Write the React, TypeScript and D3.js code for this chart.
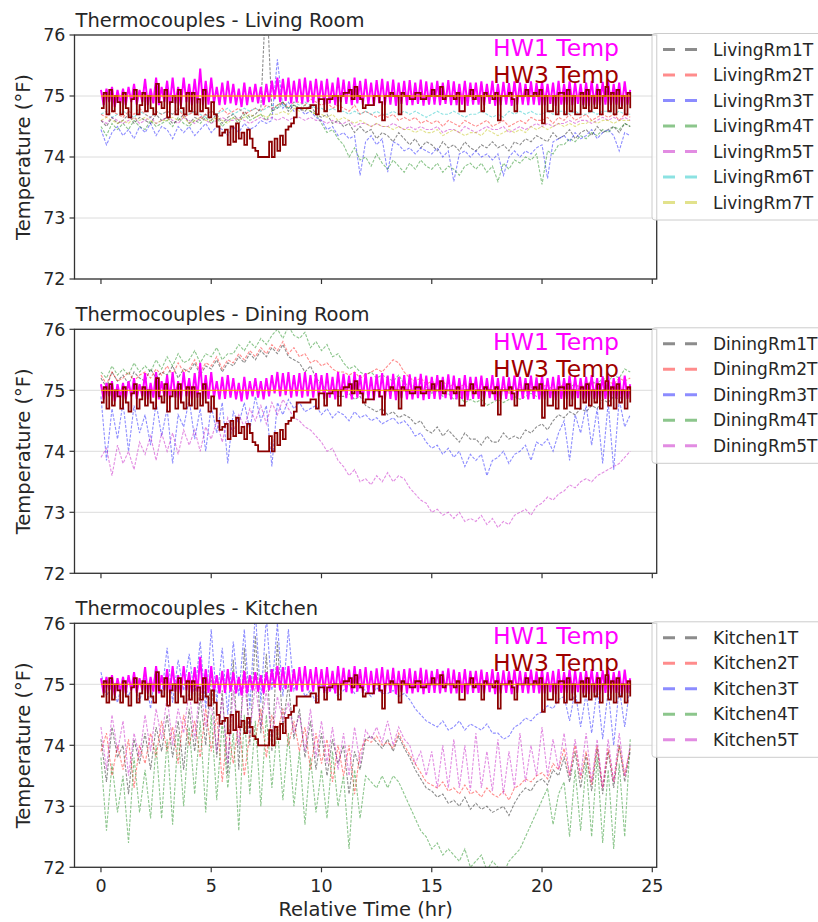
import React from "react";
import * as d3 from "d3";

// Sampling interval (hours) of the recorded series
const HW_STEP = 0.125;
const TC_STEP = 0.25;

const X_TICKS = [0, 5, 10, 15, 20, 25];
const Y_TICKS = [72, 73, 74, 75, 76];
const SETPOINT_TIMES = [0, 24];
const SETPOINT_VALUES = [75, 75];

// Hot-water loop temperatures, °F
const HW1_TEMP = [
  75.1, 74.85, 75.12, 74.9, 75.15, 74.82, 75.1, 74.88,
  75.12, 74.85, 75.15, 74.9, 75.2, 74.86, 75.1, 74.9,
  75.28, 74.85, 75.12, 74.88, 75.3, 74.85, 75.15, 74.9,
  75.25, 74.86, 75.3, 74.88, 75.15, 74.84, 75.3, 74.9,
  75.2, 74.85, 75.28, 74.88, 75.45, 74.85, 75.25, 74.86,
  75.3, 74.88, 75.15, 74.85, 75.22, 74.86, 75.25, 74.88,
  75.2, 74.85, 75.12, 74.82, 75.22, 74.85, 75.15, 74.9,
  75.2, 74.88, 75.15, 74.85, 75.2, 74.9, 75.25, 74.95,
  75.3, 74.9, 75.28, 74.92, 75.3, 74.88, 75.25, 74.9,
  75.28, 74.88, 75.3, 74.9, 75.25, 74.88, 75.28, 74.9,
  75.25, 74.86, 75.28, 74.88, 75.22, 74.85, 75.3, 74.9,
  75.27, 74.87, 75.24, 74.85, 75.3, 74.88, 75.25, 74.86,
  75.28, 74.86, 75.22, 74.84, 75.26, 74.88, 75.28, 74.85,
  75.24, 74.86, 75.27, 74.84, 75.22, 74.87, 75.25, 74.85,
  75.26, 74.85, 75.22, 74.87, 75.27, 74.84, 75.24, 74.86,
  75.22, 74.86, 75.25, 74.85, 75.22, 74.87, 75.26, 74.85,
  75.24, 74.85, 75.2, 74.86, 75.25, 74.84, 75.22, 74.86,
  75.22, 74.86, 75.24, 74.85, 75.2, 74.87, 75.25, 74.84,
  75.2, 74.85, 75.23, 74.86, 75.21, 74.84, 75.24, 74.86,
  75.22, 74.86, 75.2, 74.85, 75.24, 74.86, 75.21, 74.85,
  75.24, 74.85, 75.2, 74.87, 75.22, 74.84, 75.25, 74.86,
  75.2, 74.86, 75.24, 74.85, 75.22, 74.87, 75.2, 74.85,
  75.22, 74.84, 75.25, 74.86, 75.2, 74.85, 75.23, 74.86,
  75.24, 74.85, 75.2, 74.86, 75.22, 74.84, 75.24, 74.86,
  75.1,
];

const HW3_TEMP = [
  74.8, 75.05, 74.7, 75.1, 74.75, 75.0, 74.9, 74.7,
  75.05, 74.8, 74.65, 74.95, 75.1, 74.7, 74.85, 75.05,
  74.75, 75.0, 74.8, 74.7, 75.2, 74.9, 74.8, 75.1,
  74.65, 74.9, 75.0, 74.7, 75.1, 74.8, 74.7, 75.05,
  74.75, 75.05, 74.7, 74.95, 74.75, 75.1, 74.8, 74.65,
  74.9, 74.7, 74.5, 74.35, 74.4, 74.45, 74.2, 74.5,
  74.25, 74.55, 74.3, 74.4, 74.2, 74.45, 74.3, 74.15,
  74.1, 74.0, 74.0, 74.0, 74.0, 74.25, 74.0, 74.3,
  74.1, 74.35, 74.2, 74.45, 74.5, 74.55, 74.65, 74.8,
  74.8, 74.8, 74.8, 74.8, 74.85, 74.85, 74.7, 74.95,
  74.95, 74.75, 74.95, 74.95, 75.0, 75.0, 74.75, 75.0,
  75.05, 75.05, 75.1, 74.95, 75.15, 75.0, 74.95, 74.8,
  74.85, 74.85, 74.85, 75.0, 75.0, 74.9, 74.6, 75.0,
  75.0, 75.05, 75.0, 75.0, 74.7, 75.05, 75.0, 75.0,
  74.95, 74.95, 75.05, 75.05, 74.95, 74.95, 75.0, 75.0,
  75.1, 75.0, 75.0, 75.15, 74.95, 75.0, 75.0, 75.0,
  74.95, 75.05, 74.75, 74.75, 75.0, 75.0, 75.1, 74.95,
  75.0, 75.0, 74.75, 75.05, 75.0, 75.0, 74.95, 75.05,
  74.6, 75.0, 75.0, 75.0, 75.05, 74.95, 74.75, 75.0,
  75.0, 75.0, 75.1, 75.0, 75.0, 75.05, 75.0, 75.1,
  74.55, 75.0, 74.75, 74.75, 75.0, 74.7, 75.05, 75.05,
  74.7, 75.1, 74.75, 75.0, 74.7, 74.7, 75.05, 74.8,
  75.1, 74.75, 75.0, 74.8, 75.1, 74.7, 75.0, 75.15,
  74.75, 75.05, 74.7, 75.1, 74.8, 75.0, 74.7, 75.05,
  74.8,
];

// Living room thermocouples, °F (every 15 min)
const LIVING_RM1 = [
  74.6, 74.5, 74.65, 74.55, 74.6, 74.7, 74.55, 74.65, 74.6, 74.55, 74.7, 74.6,
  74.65, 74.55, 74.6, 74.7, 74.55, 74.65, 74.6, 74.7, 74.6, 74.7, 74.55, 74.65,
  74.7, 74.6, 74.75, 74.65, 74.7, 74.8, 76.8, 74.75, 74.8, 74.9, 74.75, 74.85,
  74.8, 74.75, 74.85, 74.7, 74.65, 74.7, 74.55, 74.6, 74.5, 74.55, 74.4, 74.5,
  74.4, 74.45, 74.3, 74.4, 74.35, 74.25, 74.4, 74.3, 74.2, 74.3, 74.15, 74.25,
  74.2, 74.1, 74.25, 74.15, 74.2, 74.1, 74.25, 74.15, 74.1, 74.2, 74.15, 74.25,
  74.15, 74.2, 74.1, 74.25, 74.2, 74.3, 74.25, 74.35, 74.3, 74.25, 74.4, 74.3,
  74.35, 74.45, 74.3, 74.4, 74.45, 74.35, 74.5, 74.4, 74.45, 74.5, 74.4, 74.55,
  74.5,
];
const LIVING_RM2 = [
  74.7, 74.65, 74.75, 74.7, 74.65, 74.75, 74.7, 74.8, 74.7, 74.65, 74.75, 74.7,
  74.75, 74.7, 74.8, 74.65, 74.7, 74.75, 74.65, 74.7, 74.75, 74.7, 74.8, 74.7,
  74.75, 74.8, 74.7, 74.75, 74.8, 74.75, 74.85, 74.8, 74.85, 74.9, 74.8, 74.9,
  74.9, 74.85, 74.95, 74.9, 74.85, 74.9, 74.8, 74.85, 74.8, 74.75, 74.85, 74.7,
  74.75, 74.7, 74.65, 74.7, 74.65, 74.7, 74.6, 74.65, 74.6, 74.65, 74.55, 74.6,
  74.55, 74.6, 74.5, 74.6, 74.55, 74.5, 74.6, 74.55, 74.5, 74.55, 74.6, 74.5,
  74.55, 74.6, 74.5, 74.55, 74.6, 74.55, 74.65, 74.6, 74.6, 74.65, 74.55, 74.65,
  74.6, 74.7, 74.6, 74.65, 74.7, 74.6, 74.65, 74.7, 74.65, 74.7, 74.6, 74.7,
  74.65,
];
const LIVING_RM3 = [
  74.45, 74.2, 74.4, 74.5, 74.35, 74.45, 74.3, 74.5, 74.4, 74.55, 74.35, 74.5,
  74.45, 74.3, 74.5, 74.4, 74.5, 74.35, 74.45, 74.55, 74.4, 74.5, 74.45, 74.35,
  74.5, 74.4, 74.55, 74.45, 74.5, 74.6, 74.55, 74.6, 75.6, 74.8, 74.9, 74.75,
  74.8, 74.7, 74.75, 74.65, 74.6, 74.45, 74.5, 74.35, 74.4, 74.3, 74.35, 73.7,
  74.25, 74.35, 74.2, 74.3, 73.75, 74.25, 74.2, 74.1, 74.15, 74.05, 74.15, 74.1,
  74.05, 74.15, 74.0, 74.1, 73.6, 74.05, 74.1, 74.0, 74.1, 74.0, 74.05, 73.95,
  74.05, 73.7, 74.0, 74.1, 74.0, 74.1, 74.05, 74.15, 74.2, 73.65, 74.25, 74.3,
  74.35, 74.25, 74.4, 74.3, 74.35, 74.45, 74.3, 74.4, 74.45, 74.35, 74.1, 74.4,
  74.35,
];
const LIVING_RM4 = [
  74.5, 74.35, 74.55, 74.45, 74.55, 74.45, 74.6, 74.5, 74.45, 74.6, 74.5, 74.55,
  74.6, 74.5, 74.65, 74.55, 74.5, 74.6, 74.55, 74.65, 74.55, 74.65, 74.5, 74.6,
  74.65, 74.55, 74.7, 74.6, 74.65, 74.7, 74.6, 74.75, 74.85, 74.9, 74.8, 74.85,
  74.8, 74.85, 74.75, 74.7, 74.55, 74.4, 74.45, 74.3, 74.2, 74.0, 74.15, 73.95,
  74.0, 73.85, 74.05, 73.9, 73.8, 73.95, 73.85, 73.75, 73.9, 73.8, 73.95, 73.85,
  73.8, 73.9, 73.75, 73.85, 73.8, 73.7, 73.85, 73.9, 73.8, 73.9, 73.75, 73.85,
  73.6, 73.9, 73.8, 73.95, 73.9, 74.0, 73.95, 74.05, 73.55, 74.1, 74.05, 74.2,
  74.2, 74.3, 74.25, 74.35, 74.3, 74.4, 74.35, 74.45, 74.4, 74.5, 74.45, 74.55,
  74.5,
];
const LIVING_RM5 = [
  74.6, 74.55, 74.65, 74.6, 74.55, 74.6, 74.65, 74.55, 74.6, 74.65, 74.55, 74.6,
  74.65, 74.6, 74.55, 74.65, 74.6, 74.55, 74.65, 74.6, 74.55, 74.6, 74.65, 74.6,
  74.6, 74.65, 74.6, 74.55, 74.6, 74.65, 74.6, 74.65, 74.6, 74.65, 74.6, 74.65,
  74.65, 74.6, 74.65, 74.6, 74.6, 74.55, 74.6, 74.55, 74.55, 74.6, 74.5, 74.55,
  74.55, 74.5, 74.55, 74.5, 74.5, 74.55, 74.5, 74.45, 74.5, 74.45, 74.5, 74.45,
  74.45, 74.5, 74.4, 74.45, 74.45, 74.4, 74.5, 74.45, 74.4, 74.45, 74.5, 74.45,
  74.45, 74.5, 74.4, 74.45, 74.5, 74.45, 74.5, 74.55, 74.5, 74.55, 74.5, 74.55,
  74.55, 74.6, 74.55, 74.6, 74.6, 74.55, 74.6, 74.65, 74.6, 74.65, 74.6, 74.65,
  74.6,
];
const LIVING_RM6 = [
  74.7, 74.75, 74.65, 74.7, 74.75, 74.7, 74.65, 74.75, 74.7, 74.65, 74.75, 74.7,
  74.75, 74.7, 74.8, 74.7, 74.7, 74.75, 74.7, 74.65, 74.75, 74.7, 74.75, 74.8,
  74.7, 74.75, 74.8, 74.75, 74.8, 74.75, 74.8, 74.85, 74.8, 74.85, 74.8, 74.9,
  74.85, 74.9, 74.85, 74.8, 74.8, 74.75, 74.8, 74.75, 74.75, 74.7, 74.75, 74.7,
  74.75, 74.7, 74.75, 74.7, 74.7, 74.75, 74.7, 74.75, 74.7, 74.75, 74.7, 74.65,
  74.7, 74.75, 74.7, 74.7, 74.75, 74.7, 74.65, 74.7, 74.7, 74.75, 74.7, 74.65,
  74.7, 74.65, 74.75, 74.7, 74.75, 74.7, 74.75, 74.7, 74.7, 74.75, 74.7, 74.75,
  74.75, 74.7, 74.75, 74.7, 74.7, 74.75, 74.7, 74.75, 74.75, 74.7, 74.75, 74.7,
  74.7,
];
const LIVING_RM7 = [
  74.6, 74.65, 74.6, 74.55, 74.6, 74.55, 74.65, 74.6, 74.65, 74.6, 74.55, 74.6,
  74.6, 74.65, 74.6, 74.65, 74.55, 74.6, 74.65, 74.6, 74.6, 74.65, 74.6, 74.55,
  74.65, 74.6, 74.65, 74.7, 74.65, 74.7, 74.65, 74.7, 74.7, 74.75, 74.7, 74.8,
  74.75, 74.8, 74.75, 74.7, 74.7, 74.65, 74.7, 74.6, 74.65, 74.6, 74.55, 74.6,
  74.55, 74.5, 74.55, 74.5, 74.5, 74.45, 74.5, 74.45, 74.45, 74.4, 74.45, 74.4,
  74.4, 74.45, 74.35, 74.4, 74.45, 74.4, 74.35, 74.4, 74.4, 74.35, 74.45, 74.4,
  74.35, 74.4, 74.45, 74.4, 74.45, 74.4, 74.5, 74.45, 74.5, 74.45, 74.5, 74.55,
  74.5, 74.55, 74.5, 74.55, 74.55, 74.6, 74.55, 74.6, 74.6, 74.55, 74.6, 74.6,
  74.6,
];

// Dining room thermocouples, °F (every 15 min)
const DINING_RM1 = [
  75.2, 75.05, 75.3, 75.15, 75.25, 75.1, 75.3, 75.2, 75.15, 75.35, 75.2, 75.3,
  75.25, 75.4, 75.2, 75.35, 75.3, 75.45, 75.25, 75.4, 75.35, 75.5, 75.3, 75.45,
  75.4, 75.55, 75.45, 75.6, 75.5, 75.65, 75.55, 75.7, 75.6, 75.75, 75.55, 75.5,
  75.45, 75.3, 75.4, 75.2, 75.1, 75.0, 74.95, 74.9, 74.9, 74.95, 74.85, 74.9,
  74.75, 74.7, 74.65, 74.7, 74.6, 74.65, 74.55, 74.6, 74.55, 74.45, 74.5, 74.35,
  74.3, 74.4, 74.25, 74.35, 74.25, 74.15, 74.3, 74.2, 74.2, 74.1, 74.25, 74.15,
  74.15, 74.3, 74.2, 74.25, 74.2, 74.35, 74.3, 74.4, 74.45, 74.35, 74.5, 74.6,
  74.55, 74.65, 74.6, 74.7, 74.65, 74.75, 74.7, 74.85, 74.8, 74.9, 74.85, 75.0,
  74.95,
];
const DINING_RM2 = [
  75.25, 75.1, 75.3, 75.15, 75.2, 75.3, 75.15, 75.25, 75.3, 75.2, 75.35, 75.25,
  75.4, 75.25, 75.45, 75.3, 75.35, 75.5, 75.3, 75.45, 75.4, 75.55, 75.35, 75.5,
  75.45, 75.6, 75.5, 75.65, 75.55, 75.7, 75.6, 75.75, 75.65, 75.8, 75.6, 75.7,
  75.55, 75.6, 75.45, 75.5, 75.4, 75.45, 75.35, 75.3, 75.3, 75.25, 75.3, 75.2,
  75.25, 75.3, 75.35, 75.3, 75.4, 75.5, 75.45, 75.3, 75.2, 75.15, 75.2, 75.1,
  75.15, 75.1, 75.15, 75.05, 75.1, 75.05, 75.1, 75.0, 75.05, 75.0, 75.05, 74.95,
  75.0, 75.05, 74.95, 75.0, 75.05, 75.0, 75.05, 75.0, 75.05, 75.1, 75.0, 75.05,
  75.1, 75.05, 75.1, 75.05, 75.1, 75.15, 75.05, 75.1, 75.15, 75.1, 75.2, 75.15,
  75.2,
];
const DINING_RM3 = [
  74.9, 73.85, 74.7, 74.2, 74.8, 74.0, 74.75, 74.3, 74.6, 74.1, 74.8, 74.25,
  74.7, 73.8, 74.6, 74.4, 74.85, 74.2, 74.7, 74.0, 74.75, 74.3, 74.8, 73.8,
  74.65, 74.45, 74.8, 74.35, 74.9, 74.5, 74.75, 73.75, 74.8, 74.6, 74.85, 74.7,
  74.8, 74.65, 74.7, 74.75, 74.6, 74.7, 74.55, 74.65, 74.6, 74.5, 74.65, 74.55,
  74.6, 74.5, 74.55, 74.45, 74.5, 74.55, 74.45, 74.5, 74.4, 74.25, 74.3, 74.15,
  74.05, 74.1, 73.95, 74.05, 73.9, 74.0, 73.75, 73.95, 73.85, 73.95, 73.6, 73.85,
  73.9, 74.0, 73.8, 73.95, 74.0, 74.1, 73.85, 74.15, 74.1, 74.2, 74.0, 74.3,
  74.5, 73.85, 74.6, 74.3, 74.75, 74.1, 74.7, 73.8, 74.8, 73.7, 74.85, 74.4,
  74.6,
];
const DINING_RM4 = [
  75.3, 75.2, 75.4, 75.25, 75.35, 75.25, 75.45, 75.3, 75.4, 75.3, 75.5, 75.35,
  75.55, 75.4, 75.6, 75.45, 75.5, 75.65, 75.45, 75.6, 75.55, 75.7, 75.5, 75.6,
  75.6, 75.75, 75.65, 75.8, 75.7, 75.85, 75.75, 75.9, 76.0, 75.85, 76.05, 75.9,
  75.85, 75.95, 75.7, 75.8, 75.65, 75.75, 75.55, 75.6, 75.45, 75.35, 75.4, 75.3,
  75.25, 75.3, 75.2, 75.25, 75.2, 75.15, 75.25, 75.1, 75.1, 75.05, 75.0, 75.05,
  74.95, 75.0, 74.9, 74.95, 74.85, 74.9, 74.8, 74.85, 74.8, 74.85, 74.75, 74.8,
  74.85, 74.8, 74.85, 74.9, 74.85, 74.9, 74.95, 74.9, 74.95, 75.0, 74.95, 75.05,
  75.0, 75.05, 75.1, 75.0, 75.05, 75.15, 75.1, 75.2, 75.15, 75.25, 75.2, 75.35,
  75.3,
];
const DINING_RM5 = [
  73.9, 74.05, 73.6, 74.1, 73.8, 74.0, 73.7, 74.15, 73.95, 74.25, 73.85, 74.3,
  74.0, 74.3, 73.95, 74.35, 74.1, 74.35, 74.0, 74.4, 74.2, 74.5, 74.15, 74.55,
  74.3, 74.6, 74.4, 74.7, 74.5, 74.75, 74.45, 74.8, 74.6, 74.85, 74.7, 74.55,
  74.5, 74.4, 74.35, 74.25, 74.15, 74.0, 74.05, 73.85, 73.75, 73.6, 73.7, 73.5,
  73.55, 73.45, 73.6, 73.5, 73.65, 73.5, 73.6, 73.55, 73.4, 73.3, 73.2, 73.15,
  73.0, 73.05, 72.95, 73.0, 72.9, 73.0, 72.85, 72.9, 72.85, 72.95, 72.8, 72.9,
  72.75, 72.85, 72.8, 72.95, 73.0, 73.05, 72.95, 73.1, 73.15, 73.25, 73.2, 73.3,
  73.35, 73.45, 73.4, 73.5, 73.55, 73.5, 73.6, 73.65, 73.7, 73.75, 73.8, 73.9,
  74.0,
];

// Kitchen thermocouples, °F (every 15 min)
const KITCHEN_1 = [
  74.1, 73.4, 74.3, 73.8, 74.0, 73.2, 74.1, 73.7, 74.2, 73.6, 74.3, 73.9,
  74.5, 73.8, 74.4, 73.6, 74.6, 73.9, 74.8, 74.0, 75.2, 73.8, 74.9, 73.5,
  75.4, 73.6, 75.6, 74.0, 75.8, 74.2, 75.5, 73.9, 75.7, 74.3, 75.0, 74.1,
  74.6, 73.8, 74.4, 73.6, 74.2, 73.5, 74.1, 73.7, 74.0, 73.2, 73.9, 73.6,
  74.1, 74.15, 74.05, 73.95, 74.1, 73.9, 74.15, 73.95, 73.8, 73.6, 73.45, 73.3,
  73.25, 73.15, 73.2, 73.05, 73.1, 73.0, 73.15, 72.95, 73.05, 72.95, 73.0, 72.9,
  72.95, 73.0, 72.85, 73.05, 73.2, 73.3, 73.25, 73.4, 73.45, 73.35, 73.6, 73.5,
  73.8, 73.4, 73.9, 73.3, 73.85, 73.25, 73.95, 73.2, 73.9, 73.3, 74.0, 73.4,
  73.9,
];
const KITCHEN_2 = [
  73.9, 74.2, 73.5, 74.0, 73.6, 74.1, 73.3, 74.0, 73.7, 74.2, 73.8, 74.4,
  73.9, 74.3, 73.7, 74.5, 74.0, 74.4, 73.8, 74.6, 73.9, 74.5, 73.4, 74.3,
  73.7, 74.4, 73.5, 74.2, 74.1, 74.6, 73.8, 74.5, 74.2, 74.6, 74.0, 74.4,
  73.9, 74.3, 73.6, 74.2, 73.7, 74.1, 73.4, 74.0, 73.5, 74.0, 73.2, 73.9,
  74.1, 74.05, 74.15, 74.0, 74.05, 73.95, 74.2, 74.0, 73.85, 73.7, 73.55, 73.4,
  73.35, 73.3, 73.4, 73.25, 73.3, 73.2, 73.35, 73.2, 73.25, 73.15, 73.3, 73.2,
  73.15, 73.25, 73.1, 73.3, 73.35, 73.45, 73.4, 73.5, 73.55, 73.45, 73.7, 73.6,
  73.95, 73.5, 74.0, 73.45, 73.9, 73.35, 74.0, 73.3, 73.95, 73.4, 74.0, 73.5,
  73.95,
];
const KITCHEN_3 = [
  75.2, 74.8, 75.0, 74.7, 75.1, 74.8, 75.05, 74.7, 75.15, 74.6, 75.3, 74.8,
  75.6, 74.7, 75.4, 74.9, 75.5, 74.8, 75.7, 74.6, 75.9, 74.7, 75.6, 74.5,
  75.7, 74.8, 75.9, 74.6, 76.2, 74.7, 76.1, 74.9, 76.0, 74.8, 75.9, 74.9,
  75.1, 74.8, 74.9, 74.7, 75.0, 74.85, 74.95, 74.8, 74.9, 75.0, 74.85, 74.95,
  74.9, 74.8, 74.95, 74.85, 74.85, 74.9, 74.8, 74.85, 74.75, 74.6, 74.5, 74.4,
  74.35, 74.3, 74.4, 74.25, 74.3, 74.4, 74.25, 74.35, 74.3, 74.25, 74.35, 74.2,
  74.2, 74.1, 74.15, 74.3, 74.35, 74.45, 74.4, 74.5, 74.55, 74.65, 74.6, 74.75,
  74.8, 74.4, 74.9, 74.3, 74.85, 74.2, 74.95, 74.1, 74.9, 74.0, 74.95, 74.3,
  75.0,
];
const KITCHEN_4 = [
  73.8, 72.6, 73.7, 72.9, 73.5, 72.4, 73.8, 72.9, 73.6, 72.8, 74.0, 72.8,
  74.1, 72.7, 74.2, 73.0, 74.3, 73.2, 74.4, 72.9, 74.5, 73.1, 74.4, 73.3,
  74.2, 72.6, 74.5, 73.2, 74.4, 73.0, 74.5, 73.3, 74.3, 73.1, 74.2, 73.0,
  73.9, 72.7, 73.8, 72.9, 73.6, 72.8, 73.9, 73.0, 73.5, 72.3, 73.6, 72.8,
  73.5, 73.4, 73.3, 73.5, 73.3, 73.5, 73.4, 73.2, 73.0, 72.8, 72.6, 72.5,
  72.3, 72.4, 72.2, 72.3, 72.2, 72.1, 72.3, 72.0, 72.1, 72.2, 71.95, 72.1,
  72.0, 71.9, 72.1, 72.2, 72.3, 72.5, 72.7, 72.9, 73.1, 73.3, 72.7, 73.2,
  73.4, 72.5, 73.6, 72.6, 73.7, 72.5, 73.8, 72.4, 73.6, 72.3, 73.7, 72.5,
  74.1,
];
const KITCHEN_5 = [
  74.3, 73.6, 74.5, 73.9, 74.4, 73.5, 74.2, 73.8, 74.5, 73.9, 74.6, 74.1,
  74.8, 74.0, 74.6, 74.2, 74.9, 74.1, 75.0, 74.3, 74.7, 73.9, 74.8, 73.7,
  74.9, 74.0, 75.1, 74.2, 75.0, 74.3, 74.9, 74.1, 74.8, 74.4, 74.7, 74.2,
  74.5, 73.9, 74.6, 73.8, 74.4, 73.7, 74.3, 73.6, 74.2, 73.5, 74.3, 73.7,
  74.25, 74.1, 74.3, 74.05, 74.4, 74.0, 74.3, 74.1, 74.0, 73.7, 73.9, 73.5,
  73.9, 73.3, 74.0, 73.3, 74.1, 73.3, 74.0, 73.25, 74.2, 73.3, 73.9, 73.25,
  74.1, 73.2, 73.9, 73.3, 74.2, 73.4, 74.0, 73.5, 74.3, 73.5, 74.1, 73.6,
  74.2, 73.5, 74.1, 73.5, 74.2, 73.4, 74.1, 73.3, 74.1, 73.4, 74.2, 73.5,
  74.0,
];

const PANEL_TITLES = [
  "Thermocouples - Living Room",
  "Thermocouples - Dining Room",
  "Thermocouples - Kitchen",
];
const LIVING_NAMES = ["LivingRm1T", "LivingRm2T", "LivingRm3T", "LivingRm4T", "LivingRm5T", "LivingRm6T", "LivingRm7T"];
const DINING_NAMES = ["DiningRm1T", "DiningRm2T", "DiningRm3T", "DiningRm4T", "DiningRm5T"];
const KITCHEN_NAMES = ["Kitchen1T", "Kitchen2T", "Kitchen3T", "Kitchen4T", "Kitchen5T"];
// matplotlib 'k', 'r', 'b', 'g', 'm', 'c', 'y'
const TC_COLORS = ["#000000", "#ff0000", "#0000ff", "#008000", "#bf00bf", "#00bfbf", "#bfbf00"];

const PANEL_NAMES = [LIVING_NAMES, DINING_NAMES, KITCHEN_NAMES];
const PANEL_VALUES = [
  [LIVING_RM1, LIVING_RM2, LIVING_RM3, LIVING_RM4, LIVING_RM5, LIVING_RM6, LIVING_RM7],
  [DINING_RM1, DINING_RM2, DINING_RM3, DINING_RM4, DINING_RM5],
  [KITCHEN_1, KITCHEN_2, KITCHEN_3, KITCHEN_4, KITCHEN_5],
];

type Pt = [number, number];
const toSeries = (vals: number[], step: number): Pt[] => vals.map((v, i) => [i * step, v]);

const FONT = "'DejaVu Sans', sans-serif";
const TEXT = "#262626";

export default function App() {
  const W = 818;
  const H = 922;
  const left = 74.5;
  const right = 656.7;
  const panelTops = [35, 329.3, 623.3];
  const panelH = 244;

  const x = d3.scaleLinear().domain([-1.2, 25.2]).range([left, right]);

  const hw1 = toSeries(HW1_TEMP, HW_STEP);
  const hw3 = toSeries(HW3_TEMP, HW_STEP);
  const setpoint: Pt[] = SETPOINT_TIMES.map((t, i) => [t, SETPOINT_VALUES[i]]);

  return (
    <svg
      width={W}
      height={H}
      viewBox={`0 0 ${W} ${H}`}
      style={{ position: "absolute", left: 0, top: 0, background: "#fff" }}
      fontFamily={FONT}
    >
      <rect x={0} y={0} width={W} height={H} fill="#fff" />
      {panelTops.map((top, p) => {
        const bottom = top + panelH;
        const y = d3.scaleLinear().domain([72, 76]).range([bottom, top]);
        const line = d3.line<Pt>().x((d) => x(d[0])).y((d) => y(d[1]));
        const stepLine = d3
          .line<Pt>()
          .x((d) => x(d[0]))
          .y((d) => y(d[1]))
          .curve(d3.curveStepAfter);
        const clipId = `clip-${p}`;
        const names = PANEL_NAMES[p];
        const values = PANEL_VALUES[p];
        const legendTop = top + 14.5;
        const rowH = 25.5;
        return (
          <g key={p}>
            <defs>
              <clipPath id={clipId}>
                <rect x={left} y={top} width={right - left} height={panelH} />
              </clipPath>
            </defs>
            {/* horizontal grid */}
            {Y_TICKS.map((t) => (
              <line key={t} x1={left} x2={right} y1={y(t)} y2={y(t)} stroke="#dcdcdc" strokeWidth={1} />
            ))}
            <g clipPath={`url(#${clipId})`}>
              {values.map((vals, i) => (
                <path
                  key={names[i]}
                  d={line(toSeries(vals, TC_STEP)) || ""}
                  fill="none"
                  stroke={TC_COLORS[i]}
                  strokeOpacity={0.45}
                  strokeWidth={1.1}
                  strokeDasharray="3,1.5"
                />
              ))}
              <path d={line(hw1) || ""} fill="none" stroke="#ff00ff" strokeWidth={2} />
              <path d={stepLine(hw3) || ""} fill="none" stroke="#8b0000" strokeWidth={1.8} />
              <path d={line(setpoint) || ""} fill="none" stroke="#ffa500" strokeWidth={1.3} strokeOpacity={0.85} />
            </g>
            {/* spines */}
            <rect x={left} y={top} width={right - left} height={panelH} fill="none" stroke="#333" strokeWidth={1.3} />
            {/* y ticks */}
            {Y_TICKS.map((t) => (
              <g key={t}>
                <line x1={left - 5} x2={left} y1={y(t)} y2={y(t)} stroke="#333" strokeWidth={1.2} />
                <text x={left - 9} y={y(t)} dy="0.36em" textAnchor="end" fontSize={17.5} fill={TEXT}>
                  {t}
                </text>
              </g>
            ))}
            {/* x ticks */}
            {X_TICKS.map((t) => (
              <g key={t}>
                <line x1={x(t)} x2={x(t)} y1={bottom} y2={bottom + 5} stroke="#333" strokeWidth={1.2} />
                {p === 2 && (
                  <text x={x(t)} y={bottom + 25} textAnchor="middle" fontSize={17.5} fill={TEXT}>
                    {t}
                  </text>
                )}
              </g>
            ))}
            <text x={left + 1} y={top - 8.5} fontSize={19.5} fill={TEXT}>
              {PANEL_TITLES[p]}
            </text>
            <text
              transform={`translate(30,${(top + bottom) / 2}) rotate(-90)`}
              textAnchor="middle"
              fontSize={19.5}
              fill={TEXT}
            >
              Temperature (°F)
            </text>
            <text x={619} y={top + 21} textAnchor="end" fontSize={23.5} fill="#ff00ff">
              HW1 Temp
            </text>
            <text x={619} y={top + 48} textAnchor="end" fontSize={23.5} fill="#a00000">
              HW3 Temp
            </text>
            {/* legend */}
            <rect
              x={652}
              y={top - 1.5}
              width={200}
              height={names.length * rowH + 8}
              rx={3}
              fill="#fff"
              fillOpacity={0.8}
              stroke="#cccccc"
              strokeWidth={1}
            />
            {names.map((n, i) => (
              <g key={n}>
                <line
                  x1={663}
                  x2={697}
                  y1={legendTop + i * rowH}
                  y2={legendTop + i * rowH}
                  stroke={TC_COLORS[i]}
                  strokeOpacity={0.45}
                  strokeWidth={3}
                  strokeDasharray="12,10"
                />
                <text x={713} y={legendTop + i * rowH} dy="0.36em" fontSize={17} fill={TEXT}>
                  {n}
                </text>
              </g>
            ))}
          </g>
        );
      })}
      <text x={(left + right) / 2} y={916} textAnchor="middle" fontSize={19.5} fill={TEXT}>
        Relative Time (hr)
      </text>
    </svg>
  );
}
